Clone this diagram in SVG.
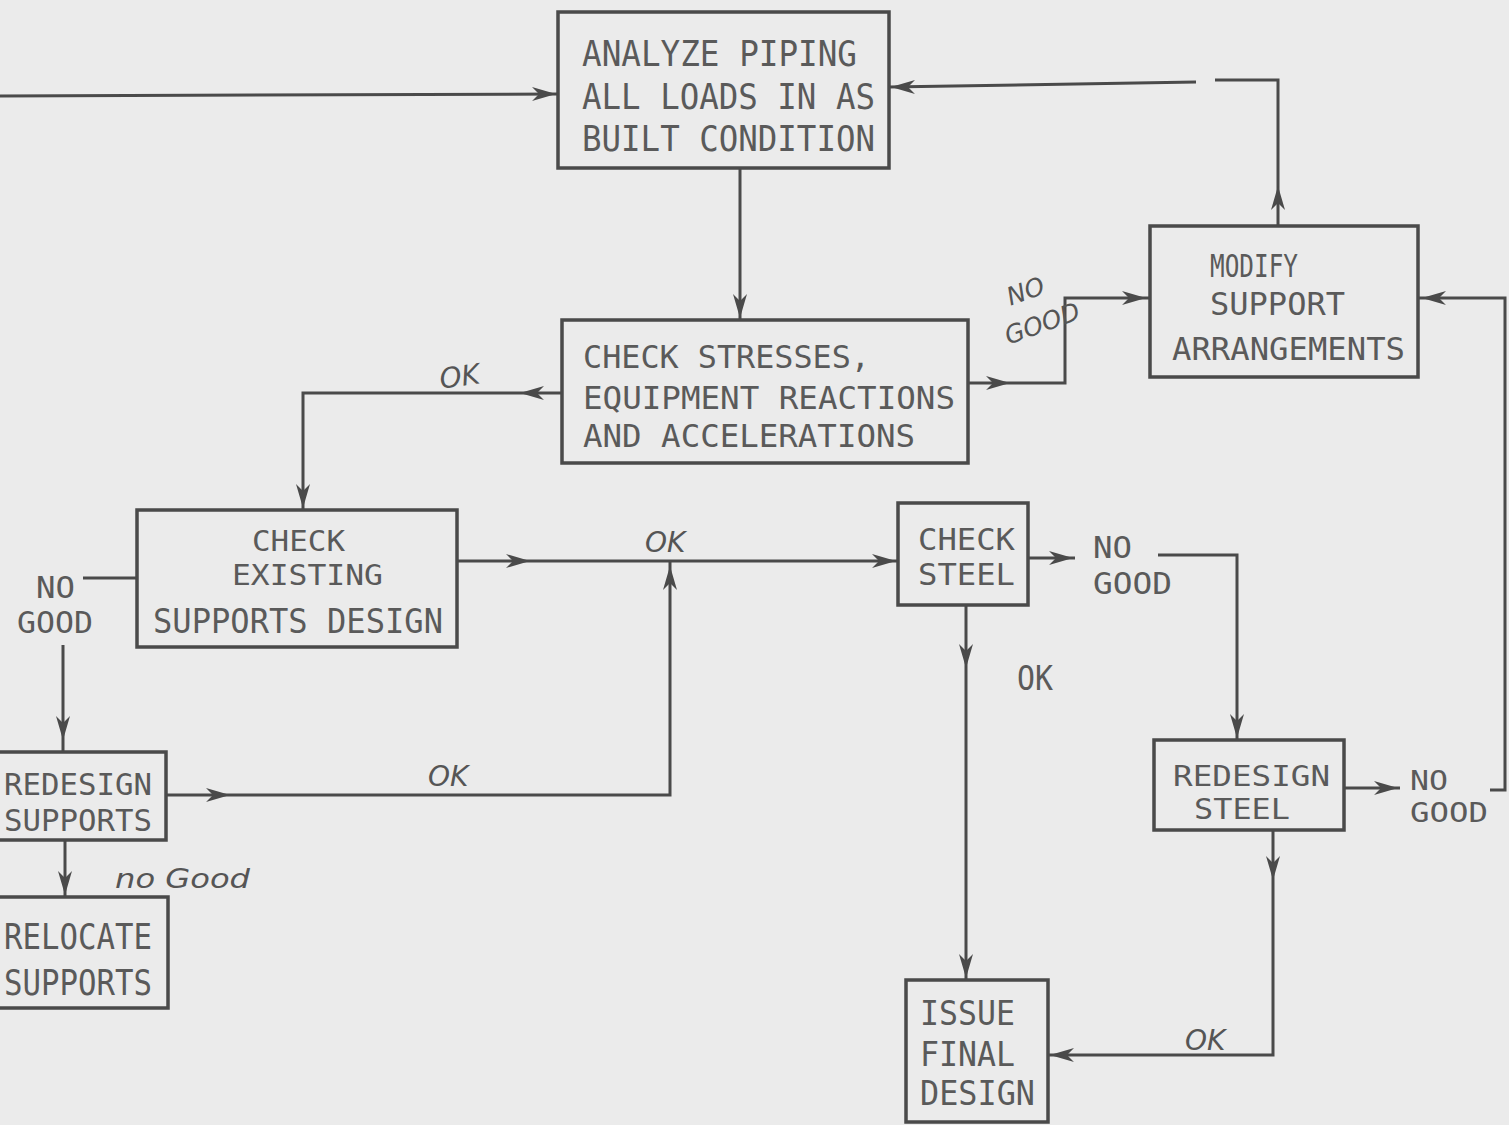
<svg xmlns="http://www.w3.org/2000/svg" xmlns:xlink="http://www.w3.org/1999/xlink" width="1509" height="1125" viewBox="0 0 1509 1125">
<style>
.box{fill:none;stroke:#4a4a4a;stroke-width:3.5}
.ln{fill:none;stroke:#4a4a4a;stroke-width:3}
.t{font-family:"DejaVu Sans Mono","Liberation Mono",monospace;fill:#5a5a5a}
.h{font-family:"DejaVu Sans","Liberation Sans",sans-serif;font-style:italic;fill:#555}
.ah{fill:#4a4a4a}
</style>
<defs>
<path id="ah" d="M0,0 L-24,-7 L-17,0 L-24,7 Z"/>
</defs>
<rect width="1509" height="1125" fill="#ebebeb"/>

<g id="connectors">
<path class="ln" d="M0,96 L558,94"/>
<use xlink:href="#ah" class="ah" transform="translate(556,94)"/>
<path class="ln" d="M740,168 V320"/>
<use xlink:href="#ah" class="ah" transform="translate(740,318) rotate(90)"/>
<path class="ln" d="M562,393 H303 V510"/>
<use xlink:href="#ah" class="ah" transform="translate(520,393) rotate(180)"/>
<use xlink:href="#ah" class="ah" transform="translate(303,508) rotate(90)"/>
<path class="ln" d="M968,383 H1065 V298 H1150"/>
<use xlink:href="#ah" class="ah" transform="translate(1010,383)"/>
<use xlink:href="#ah" class="ah" transform="translate(1146,298)"/>
<path class="ln" d="M1278,226 V80 H1215 M1196,82 L889,87"/>
<use xlink:href="#ah" class="ah" transform="translate(1278,186) rotate(-90)"/>
<use xlink:href="#ah" class="ah" transform="translate(891,87) rotate(180)"/>
<path class="ln" d="M457,561 H898"/>
<use xlink:href="#ah" class="ah" transform="translate(530,561)"/>
<use xlink:href="#ah" class="ah" transform="translate(896,561)"/>
<path class="ln" d="M137,578 H83 M63,645 V752"/>
<use xlink:href="#ah" class="ah" transform="translate(63,740) rotate(90)"/>
<path class="ln" d="M166,795 H670 V560"/>
<use xlink:href="#ah" class="ah" transform="translate(230,795)"/>
<use xlink:href="#ah" class="ah" transform="translate(670,566) rotate(-90)"/>
<path class="ln" d="M65,840 V897"/>
<use xlink:href="#ah" class="ah" transform="translate(65,895) rotate(90)"/>
<path class="ln" d="M1028,558 H1075 M1158,555 H1237 V740"/>
<use xlink:href="#ah" class="ah" transform="translate(1073,558)"/>
<use xlink:href="#ah" class="ah" transform="translate(1237,738) rotate(90)"/>
<path class="ln" d="M966,605 V980"/>
<use xlink:href="#ah" class="ah" transform="translate(966,668) rotate(90)"/>
<use xlink:href="#ah" class="ah" transform="translate(966,978) rotate(90)"/>
<path class="ln" d="M1344,788 H1400"/>
<use xlink:href="#ah" class="ah" transform="translate(1398,788)"/>
<path class="ln" d="M1490,790 H1505 V298 H1418"/>
<use xlink:href="#ah" class="ah" transform="translate(1422,298) rotate(180)"/>
<path class="ln" d="M1273,830 V1055 H1048"/>
<use xlink:href="#ah" class="ah" transform="translate(1273,880) rotate(90)"/>
<use xlink:href="#ah" class="ah" transform="translate(1050,1055) rotate(180)"/>
</g>

<g id="labels">
<text class="h" x="440" y="386" font-size="28" transform="rotate(-8 460 380)">OK</text>
<text class="h" font-size="25" transform="rotate(-20 1035 315)"><tspan x="1015" y="298">NO</tspan><tspan x="1000" y="334">GOOD</tspan></text>
<text class="h" x="645" y="552" font-size="28">OK</text>
<text class="h" x="428" y="786" font-size="28">OK</text>
<text class="h" x="115" y="888" font-size="26" textLength="135" lengthAdjust="spacingAndGlyphs">no Good</text>
<text class="h" x="1185" y="1050" font-size="28">OK</text>
<text class="t" font-size="30"><tspan x="36" y="598" textLength="39" lengthAdjust="spacingAndGlyphs">NO</tspan><tspan x="17" y="633" textLength="76" lengthAdjust="spacingAndGlyphs">GOOD</tspan></text>
<text class="t" font-size="30"><tspan x="1093" y="558" textLength="39" lengthAdjust="spacingAndGlyphs">NO</tspan><tspan x="1093" y="594" textLength="79" lengthAdjust="spacingAndGlyphs">GOOD</tspan></text>
<text class="t" x="1017" y="690" font-size="33" textLength="36" lengthAdjust="spacingAndGlyphs">OK</text>
<text class="t" font-size="27"><tspan x="1410" y="790" textLength="38" lengthAdjust="spacingAndGlyphs">NO</tspan><tspan x="1410" y="822" textLength="78" lengthAdjust="spacingAndGlyphs">GOOD</tspan></text>
</g>

<g id="analyze">
<rect class="box" x="558" y="12" width="331" height="156"/>
<text class="t" font-size="36"><tspan x="582" y="66" textLength="275" lengthAdjust="spacingAndGlyphs">ANALYZE PIPING</tspan><tspan x="582" y="109" textLength="293" lengthAdjust="spacingAndGlyphs">ALL LOADS IN AS</tspan><tspan x="582" y="151" textLength="293" lengthAdjust="spacingAndGlyphs">BUILT CONDITION</tspan></text>
</g>

<g id="check-stresses">
<rect class="box" x="562" y="320" width="406" height="143"/>
<text class="t" font-size="32"><tspan x="583" y="368" textLength="287" lengthAdjust="spacingAndGlyphs">CHECK STRESSES,</tspan><tspan x="583" y="409" textLength="372" lengthAdjust="spacingAndGlyphs">EQUIPMENT REACTIONS</tspan><tspan x="583" y="447" textLength="332" lengthAdjust="spacingAndGlyphs">AND ACCELERATIONS</tspan></text>
</g>

<g id="modify">
<rect class="box" x="1150" y="226" width="268" height="151"/>
<text class="t" font-size="32"><tspan x="1210" y="277" textLength="88" lengthAdjust="spacingAndGlyphs">MODIFY</tspan><tspan x="1210" y="315" textLength="135" lengthAdjust="spacingAndGlyphs">SUPPORT</tspan><tspan x="1172" y="360" textLength="233" lengthAdjust="spacingAndGlyphs">ARRANGEMENTS</tspan></text>
</g>

<g id="check-existing">
<rect class="box" x="137" y="510" width="320" height="137"/>
<text class="t" font-size="29"><tspan x="252" y="551" textLength="93" lengthAdjust="spacingAndGlyphs">CHECK</tspan><tspan x="232" y="585" textLength="151" lengthAdjust="spacingAndGlyphs">EXISTING</tspan></text>
<text class="t" font-size="34" x="153" y="633" textLength="290" lengthAdjust="spacingAndGlyphs">SUPPORTS DESIGN</text>
</g>

<g id="redesign-supports">
<rect class="box" x="-5" y="752" width="171" height="88"/>
<text class="t" font-size="30"><tspan x="4" y="795" textLength="148" lengthAdjust="spacingAndGlyphs">REDESIGN</tspan><tspan x="4" y="831" textLength="148" lengthAdjust="spacingAndGlyphs">SUPPORTS</tspan></text>
</g>

<g id="relocate-supports">
<rect class="box" x="-5" y="897" width="173" height="111"/>
<text class="t" font-size="36"><tspan x="4" y="949" textLength="148" lengthAdjust="spacingAndGlyphs">RELOCATE</tspan><tspan x="4" y="995" textLength="148" lengthAdjust="spacingAndGlyphs">SUPPORTS</tspan></text>
</g>

<g id="check-steel">
<rect class="box" x="898" y="503" width="130" height="102"/>
<text class="t" font-size="30"><tspan x="918" y="550" textLength="97" lengthAdjust="spacingAndGlyphs">CHECK</tspan><tspan x="918" y="585" textLength="97" lengthAdjust="spacingAndGlyphs">STEEL</tspan></text>
</g>

<g id="redesign-steel">
<rect class="box" x="1154" y="740" width="190" height="90"/>
<text class="t" font-size="28"><tspan x="1173" y="786" textLength="157" lengthAdjust="spacingAndGlyphs">REDESIGN</tspan><tspan x="1194" y="819" textLength="96" lengthAdjust="spacingAndGlyphs">STEEL</tspan></text>
</g>

<g id="issue">
<rect class="box" x="906" y="980" width="142" height="142"/>
<text class="t" font-size="33"><tspan x="920" y="1025" textLength="95" lengthAdjust="spacingAndGlyphs">ISSUE</tspan><tspan x="920" y="1066" textLength="95" lengthAdjust="spacingAndGlyphs">FINAL</tspan><tspan x="920" y="1105" textLength="115" lengthAdjust="spacingAndGlyphs">DESIGN</tspan></text>
</g>
</svg>
